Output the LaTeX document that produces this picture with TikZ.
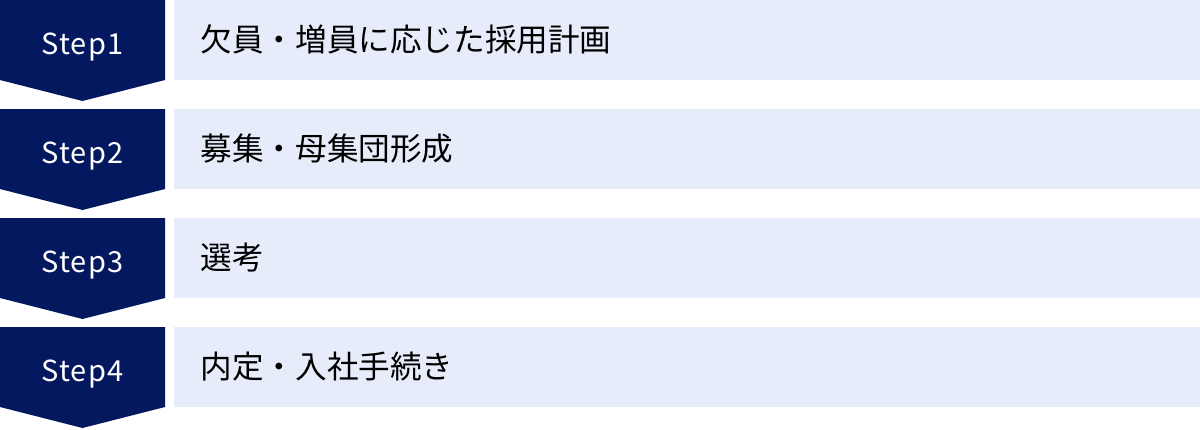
\documentclass[tikz,border=0pt]{standalone}
\usepackage{fontspec}
\setmainfont{Noto Sans CJK JP}
\definecolor{navy}{HTML}{04185F}
\definecolor{pale}{HTML}{E6ECF9}
\begin{document}
\begin{tikzpicture}[x=1pt,y=-1pt,
  stepshape/.style={fill=navy},
  barshape/.style={fill=pale},
  steplabel/.style={text=white,font=\fontsize{29}{30}\selectfont,anchor=base,inner sep=0pt},
  barlabel/.style={text=black,font=\fontsize{31.6}{32}\selectfont,anchor=base west,inner sep=0pt}]
\useasboundingbox (0,0) rectangle (1200,429);
\foreach \i/\t in {0/欠員・増員に応じた採用計画,1/募集・母集団形成,2/選考,3/内定・入社手続き}{
  \pgfmathsetmacro{\y}{109*\i}
  \fill[stepshape] (0,\y) -- (165,\y) -- (165,\y+80) -- (82.5,\y+101) -- (0,\y+80) -- cycle;
  \fill[barshape] (174,\y) rectangle (1200,\y+80);
  \pgfmathtruncatemacro{\n}{\i+1}
  \node[steplabel] (s\n) at (82.5,\y+54) {\addfontfeature{LetterSpace=4}Step\n};
  \node[barlabel] (b\n) at (200.5,\y+51.5) {\t};
}
\end{tikzpicture}
\end{document}
